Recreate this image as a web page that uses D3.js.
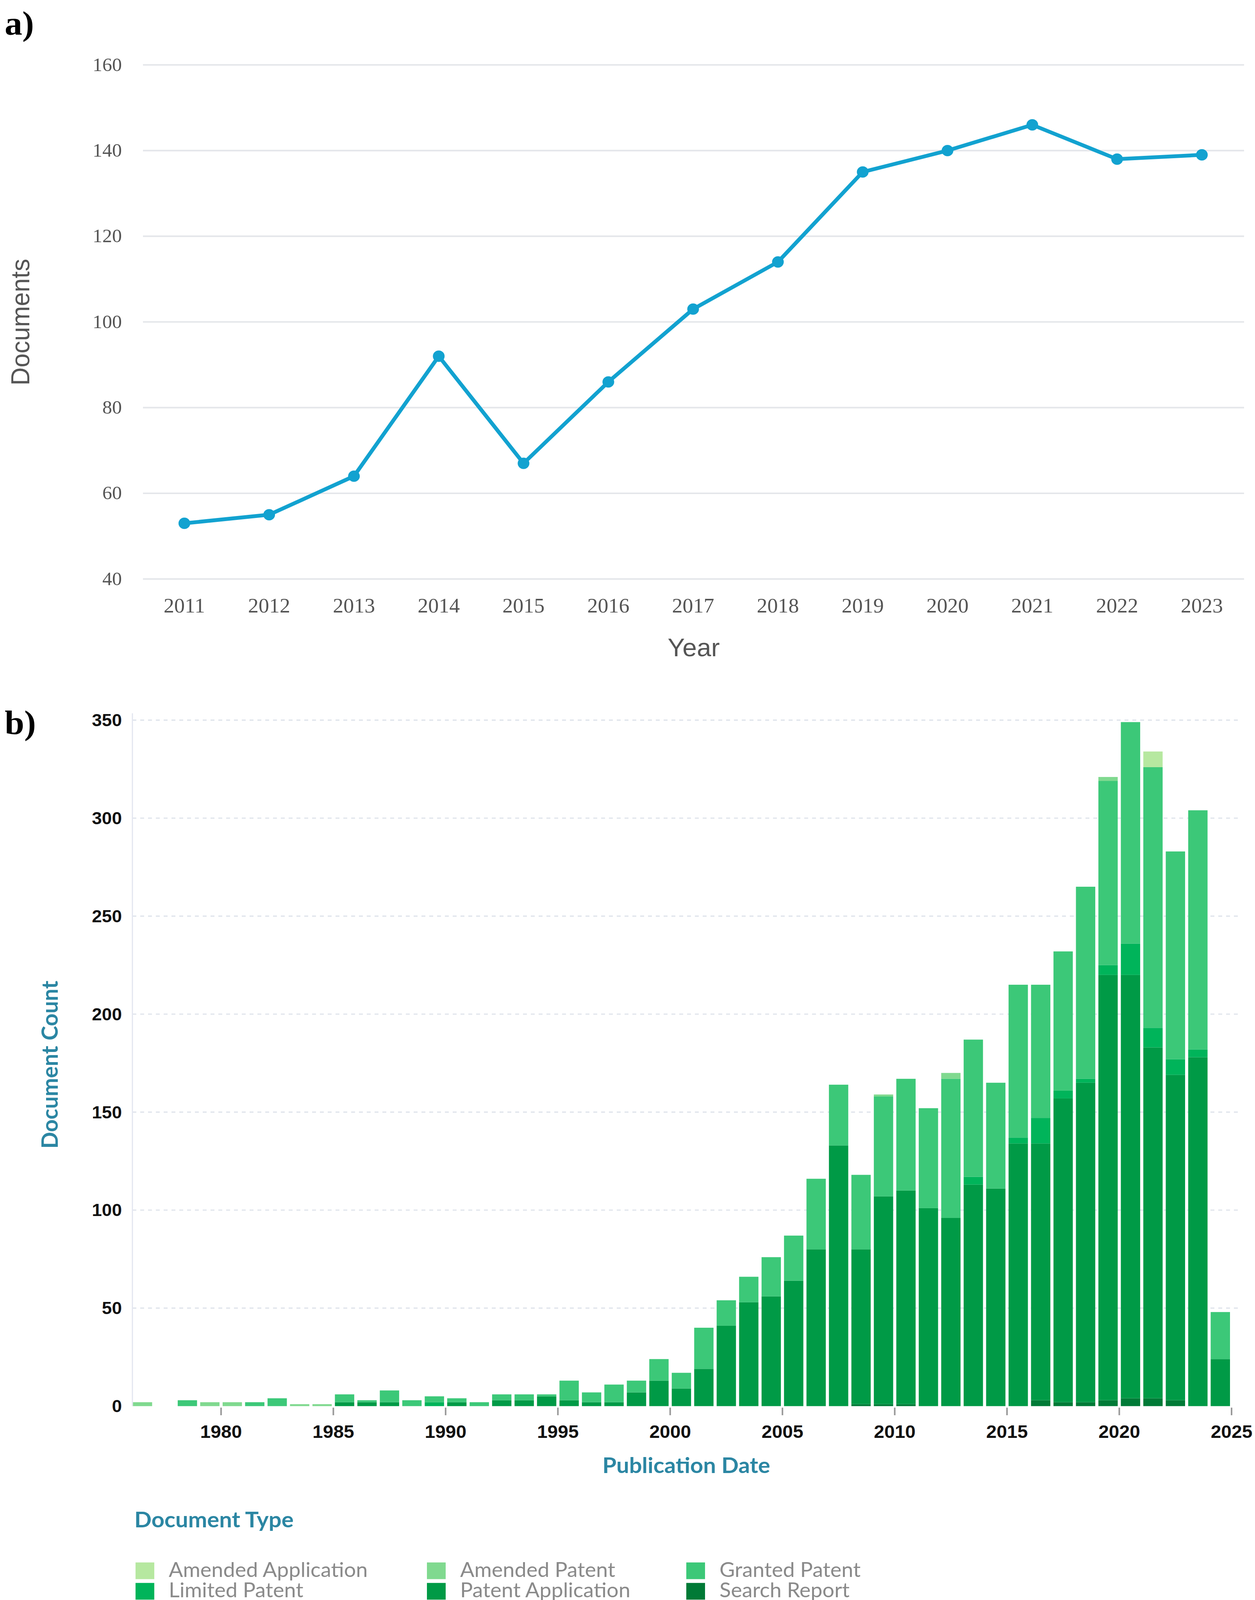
<!DOCTYPE html>
<html><head><meta charset="utf-8">
<script src="https://cdn.jsdelivr.net/npm/d3@7"></script>
<style>html,body{margin:0;padding:0;background:#fff;overflow:hidden}svg{display:block;width:100vw;height:100vh}</style>
</head><body>
<script>
// ---- Panel a data
const yearsA = [2011,2012,2013,2014,2015,2016,2017,2018,2019,2020,2021,2022,2023];
const docsA  = [53,55,64,92,67,86,103,114,135,140,146,138,139];
const ticksA = [40,60,80,100,120,140,160];

// ---- Panel b data (per publication year)
const yearsB = d3.range(1976, 2025);
const totalB = [2,0,3,2,2,2,4,1,1,6,3,8,3,5,4,2,6,6,6,13,7,11,13,24,17,40,54,66,76,87,116,164,118,159,167,152,170,187,165,215,215,232,265,321,349,326,283,304,48];
const darkB  = [0,0,0,0,0,0,0,0,0,2,2,2,0,0,2,0,3,3,5,3,2,2,7,13,9,19,41,53,56,64,80,133,80,107,110,101,96,113,111,134,134,157,165,220,220,183,169,178,24];
const limitedB = [0,0,0,0,0,0,0,0,0,0,0,0,0,2,0,0,0,0,0,0,0,0,0,0,0,0,0,0,0,0,0,0,0,0,0,0,0,4,0,3,13,4,2,5,16,10,8,4,0];
const searchB  = [0,0,0,0,0,0,0,0,0,0,0,0,0,0,0,0,0,0,0,0,0,0,0,0,0,0,0,0,0,0,0,0,1,1,1,0,0,0,0,0,3,2,2,3,4,4,3,0,0];
const amendedAppB = [0,0,0,0,0,0,0,0,0,0,0,0,0,0,0,0,0,0,0,0,0,0,0,0,0,0,0,0,0,0,0,0,0,0,0,0,0,0,0,0,0,0,0,0,0,8,0,0,0];
const amendedPatB = [2,0,0,2,2,0,0,1,1,0,0,0,0,0,0,0,0,0,0,0,0,0,0,0,0,0,0,0,0,0,0,0,0,1,0,0,3,0,0,0,0,0,0,2,0,0,0,0,0];
const ticksB = [0,50,100,150,200,250,300,350];
const xTicksB = [1980,1985,1990,1995,2000,2005,2010,2015,2020,2025];
const typeNames = ["Amended Application","Amended Patent","Granted Patent","Limited Patent","Patent Application","Search Report"];
const typeColors = ["#b6e8a0","#80d98f","#3cc878","#00b45a","#009a46","#007a36"];

const W=3213,H=4217;
const svg=d3.select("body").append("svg").attr("viewBox",`0 0 ${W} ${H}`).attr("preserveAspectRatio","none");

// ===== Panel a
svg.append("text").text("a)").attr("x",12).attr("y",92).attr("font-family","Liberation Serif").attr("font-weight","bold").attr("font-size",90);
const xA=d3.scaleLinear().domain([2011,2023]).range([472,3077]);
const yA=d3.scaleLinear().domain([40,160]).range([1526,171]);
const gA=svg.append("g");
gA.selectAll("line.g").data(ticksA).join("line").attr("x1",366).attr("x2",3185)
 .attr("y1",d=>yA(d)).attr("y2",d=>yA(d)).attr("stroke","#e4e6ea").attr("stroke-width",4);
gA.selectAll("text.y").data(ticksA).join("text").attr("x",312).attr("y",d=>yA(d)+16)
 .attr("text-anchor","end").attr("font-family","Liberation Serif").attr("font-size",50).attr("fill","#555").text(d=>d);
gA.selectAll("text.x").data(yearsA).join("text").attr("x",d=>xA(d)).attr("y",1614)
 .attr("text-anchor","middle").attr("font-family","Liberation Serif").attr("font-size",54).attr("fill","#555").text(d=>d);
svg.append("text").text("Year").attr("x",1776).attr("y",1730).attr("text-anchor","middle").attr("font-family","Liberation Sans").attr("font-size",66).attr("fill","#555");
svg.append("text").text("Documents").attr("transform","translate(75,849) rotate(-90)").attr("text-anchor","middle").attr("font-family","Liberation Sans").attr("font-size",66).attr("fill","#555");
const line=d3.line().x((d,i)=>xA(yearsA[i])).y(d=>yA(d));
gA.append("path").datum(docsA).attr("d",line).attr("fill","none").attr("stroke","#12a2d0").attr("stroke-width",10).attr("stroke-linejoin","round");
gA.selectAll("circle").data(docsA).join("circle").attr("cx",(d,i)=>xA(yearsA[i])).attr("cy",d=>yA(d)).attr("r",15).attr("fill","#12a2d0");

// ===== Panel b
svg.append("text").text("b)").attr("x",12).attr("y",1935).attr("font-family","Liberation Serif").attr("font-weight","bold").attr("font-size",90);
const xB=d3.scaleLinear().domain([1976,2025]).range([336,3153]);
const yB=d3.scaleLinear().domain([0,350]).range([3706,1898]);
const gB=svg.append("g");
gB.selectAll("line.g").data(ticksB.slice(1)).join("line").attr("x1",339).attr("x2",3172)
 .attr("y1",d=>yB(d)).attr("y2",d=>yB(d)).attr("stroke","#dde2ea").attr("stroke-width",3).attr("stroke-dasharray","10,10");
svg.append("line").attr("x1",339).attr("x2",339).attr("y1",1880).attr("y2",3706).attr("stroke","#e3e6f0").attr("stroke-width",3);
gB.selectAll("text.y").data(ticksB).join("text").attr("x",312).attr("y",d=>yB(d)+16)
 .attr("text-anchor","end").attr("font-family","Liberation Sans").attr("font-weight","bold").attr("font-size",46).attr("fill","#111").text(d=>d);
gB.selectAll("line.t").data(xTicksB).join("line").attr("x1",d=>xB(d)).attr("x2",d=>xB(d)).attr("y1",3710).attr("y2",3730).attr("stroke","#999").attr("stroke-width",4);
gB.selectAll("text.x").data(xTicksB).join("text").attr("x",d=>xB(d)).attr("y",3790)
 .attr("text-anchor","middle").attr("font-family","Liberation Sans").attr("font-weight","bold").attr("font-size",48).attr("fill","#111").text(d=>d);
svg.append("text").text("Publication Date").attr("x",1757).attr("y",3882).attr("text-anchor","middle").attr("font-family","Lato").attr("font-weight","bold").attr("font-size",58).attr("fill","#2b86a3");
svg.append("text").text("Document Count").attr("transform","translate(148,2806) rotate(-90)").attr("text-anchor","middle").attr("font-family","Lato").attr("font-weight","bold").attr("font-size",58).attr("fill","#2b86a3");

const rows = yearsB.map((yr,i)=>{
  const s=searchB[i], pa=darkB[i]-searchB[i], lim=limitedB[i];
  const aa=amendedAppB[i], ap=amendedPatB[i];
  const gr=Math.max(0,totalB[i]-darkB[i]-lim-ap);
  return {yr, "Search Report":s,"Patent Application":pa,"Limited Patent":lim,"Granted Patent":gr,"Amended Patent":ap,"Amended Application":aa};
});
const order=["Search Report","Patent Application","Limited Patent","Granted Patent","Amended Patent","Amended Application"];
const stack=d3.stack().keys(order)(rows);
const colorOf=d3.scaleOrdinal().domain(typeNames).range(typeColors);
gB.selectAll("g.s").data(stack).join("g").attr("fill",d=>colorOf(d.key))
 .selectAll("rect").data(d=>d).join("rect")
 .attr("x",d=>xB(d.data.yr)+4).attr("width",d=>xB(d.data.yr+1)-xB(d.data.yr)-8)
 .attr("y",d=>yB(d[1])).attr("height",d=>Math.max(0,yB(d[0])-yB(d[1])));

// legend
svg.append("text").text("Document Type").attr("x",344).attr("y",4025).attr("font-family","Lato").attr("font-weight","bold").attr("font-size",58).attr("fill","#2b86a3");
const colX=[347,1093,1757];
typeNames.forEach((n,i)=>{
  const cx=colX[i%3], cy= i<3?4118:4172;
  svg.append("rect").attr("x",cx).attr("y",cy).attr("width",48).attr("height",44).attr("fill",typeColors[i]);
  svg.append("text").text(n).attr("x",cx+85).attr("y",cy+38).attr("font-family","Lato").attr("font-size",54).attr("fill","#8a8a8a");
});
</script>
</body></html>
